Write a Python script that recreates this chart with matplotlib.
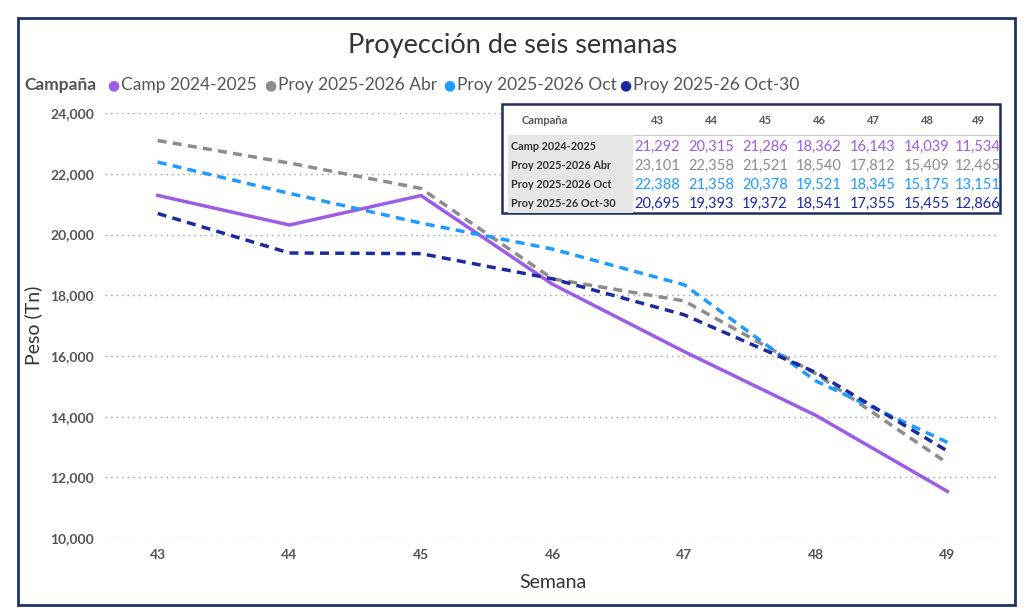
import matplotlib.pyplot as plt
from matplotlib.patches import Rectangle

plt.rcParams["font.family"] = ["Lato", "DejaVu Sans"]

semanas = [43, 44, 45, 46, 47, 48, 49]
series_names = [
    "Camp 2024-2025",
    "Proy 2025-2026 Abr",
    "Proy 2025-2026 Oct",
    "Proy 2025-26 Oct-30",
]
camp_2024 = [21292, 20315, 21286, 18362, 16143, 14039, 11534]
proy_abr = [23101, 22358, 21521, 18540, 17812, 15409, 12465]
proy_oct = [22388, 21358, 20378, 19521, 18345, 15175, 13151]
proy_oct30 = [20695, 19393, 19372, 18541, 17355, 15455, 12866]

all_series = [camp_2024, proy_abr, proy_oct, proy_oct30]
colors = ["#9d5ce6", "#8c8c8c", "#1e9bff", "#1c2aa0"]
styles = ["-", (0, (2.6, 1.8)), (0, (2.6, 1.8)), (0, (2.6, 1.8))]

fig = plt.figure(figsize=(10.3, 6.12), dpi=100)
ax = fig.add_axes([0.102, 0.121, 0.869, 0.694])

for values, col, ls in zip(all_series, colors, styles):
    ax.plot(semanas, values, color=col, linestyle=ls, linewidth=2.5)

ax.set_xlim(42.6, 49.4)
ax.set_ylim(10000, 24000)
ax.set_yticks(range(10000, 24001, 2000))
ax.set_yticklabels([f"{v:,}" for v in range(10000, 24001, 2000)])
ax.set_xticks(semanas)
ax.grid(axis="y", color="#9a9a9a", linestyle=(0, (1, 3)), linewidth=1)
ax.set_axisbelow(True)
for s in ax.spines.values():
    s.set_visible(False)
ax.tick_params(length=0, labelsize=10, colors="#555555", pad=8)
for lab in ax.get_xticklabels() + ax.get_yticklabels():
    lab.set_fontweight("bold")
ax.set_xlabel("Semana", fontsize=14, color="#333333", labelpad=9)
ax.set_ylabel("Peso (Tn)", fontsize=14, color="#333333", labelpad=6)

# title and legend
fig.text(0.498, 0.926, "Proyección de seis semanas", ha="center", va="center",
         fontsize=19.5, color="#333333")
fig.text(0.024, 0.861, "Campaña", ha="left", va="center", fontsize=12.5,
         fontweight="bold", color="#555555")
leg_x = [107, 264, 443, 619]
for x, name, col in zip(leg_x, series_names, colors):
    fig.text(x / 1030, 0.861, "●", ha="left", va="center", fontsize=10, color=col,
             family="DejaVu Sans")
    fig.text((x + 14) / 1030, 0.861, name, ha="left", va="center", fontsize=12.5,
             color="#555555")

# table box
tb_left, tb_right = 502 / 1030, 1000 / 1030
tb_top, tb_bot = 1 - 104 / 612, 1 - 213 / 612
fig.patches.append(Rectangle((tb_left, tb_bot), tb_right - tb_left, tb_top - tb_bot,
                             transform=fig.transFigure, facecolor="white",
                             edgecolor="#1f2f5c", linewidth=1.8, zorder=5))
fig.patches.append(Rectangle((508 / 1030, 1 - 213 / 612), 125 / 1030, 78 / 612,
                             transform=fig.transFigure, facecolor="#e6e6e6",
                             edgecolor="none", zorder=6))
fig.add_artist(plt.Line2D([508 / 1030, 998 / 1030], [1 - 135 / 612, 1 - 135 / 612],
                          transform=fig.transFigure, color="#cccccc", linewidth=0.8,
                          zorder=6))
col_x = [657, 711, 765, 819, 873, 927, 978]
header_y = 1 - 121 / 612
fig.text(545 / 1030, header_y, "Campaña", ha="center", va="center", fontsize=8,
         fontweight="bold", color="#555555", zorder=7)
for cx, sem in zip(col_x, semanas):
    fig.text(cx / 1030, header_y, str(sem), ha="center", va="center", fontsize=8,
             fontweight="bold", color="#555555", zorder=7)
row_y = [147, 166, 185, 204]
for ry, name, values, col in zip(row_y, series_names, all_series, colors):
    fig.text(511 / 1030, 1 - ry / 612, name, ha="left", va="center", fontsize=7.8,
             fontweight="bold", color="#333333", zorder=7)
    for cx, v in zip(col_x, values):
        fig.text(cx / 1030, 1 - ry / 612, f"{v:,}", ha="center", va="center",
                 fontsize=10.5, color=col, zorder=7)

# outer frame
fig.patches.append(Rectangle((18 / 1030, 1 - 605 / 612), 997 / 1030, 587 / 612,
                             transform=fig.transFigure, facecolor="none",
                             edgecolor="#1f3466", linewidth=2, zorder=10))

fig.savefig("out.png", dpi=100)
